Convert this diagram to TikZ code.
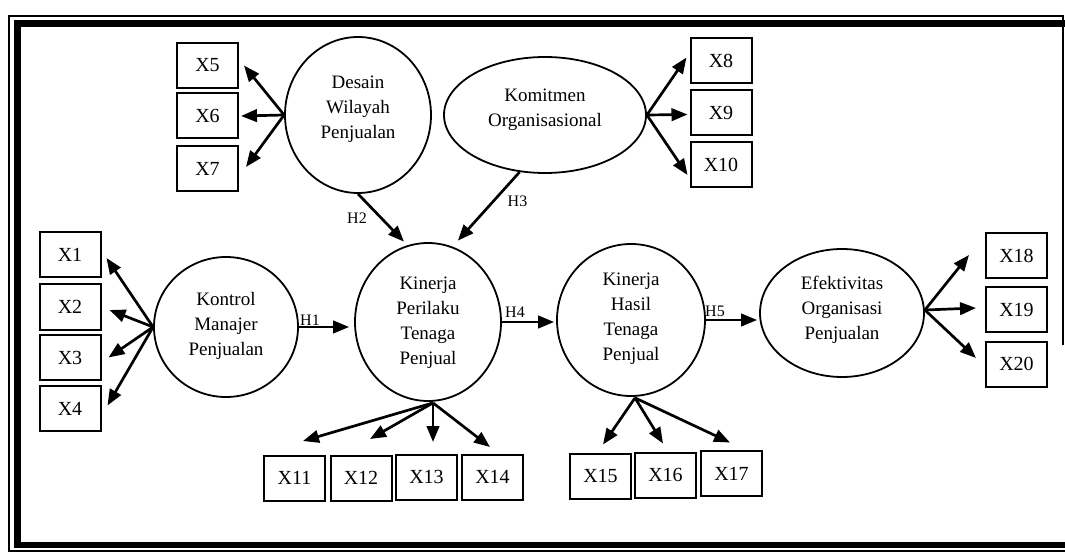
\documentclass[tikz,border=0pt]{standalone}
\usepackage{fontspec}
\setmainfont{Liberation Serif}
\usetikzlibrary{shapes.geometric,arrows.meta,calc}

\begin{document}
\begin{tikzpicture}[x=1pt,y=-1pt,
  latent/.style={draw,ellipse,line width=1.8pt,inner sep=0pt},
  caption/.style={inner sep=0pt,align=center,font=\fontsize{19}{25}\selectfont},
  indicator/.style={draw,rectangle,line width=2pt,minimum width=61pt,
    minimum height=45pt,inner sep=0pt,font=\fontsize{20}{22}\selectfont},
  path/.style={line width=2.7pt,-{Triangle[length=16pt,width=12.5pt]}},
  hyp/.style={inner sep=0pt,font=\fontsize{16}{18}\selectfont}
]
\useasboundingbox (0,0) rectangle (1065,553);

% double frame
\draw[line width=6.5pt] (17.5,23.5) rectangle (1085,545);
\draw[line width=1.3pt] (1063,345) -- (1063,16) -- (9,16) -- (9,551) -- (1070,551);

% latent constructs
\node[latent,minimum width=146pt,minimum height=156pt] (desain) at (358,115) {};
\node[latent,minimum width=202pt,minimum height=116pt] (komitmen) at (545,115) {};
\node[latent,minimum width=144pt,minimum height=140pt] (kontrol) at (226,327) {};
\node[latent,minimum width=146pt,minimum height=158pt] (perilaku) at (428,322) {};
\node[latent,minimum width=148pt,minimum height=152pt] (hasil) at (631,320) {};
\node[latent,minimum width=164pt,minimum height=128pt] (efektivitas) at (842,313) {};

% construct names
\node[caption] (desain-t) at ($(desain.center)+(0,-6)$) {Desain\\Wilayah\\Penjualan};
\node[caption] (komitmen-t) at ($(komitmen.center)+(0,-5)$) {Komitmen\\Organisasional};
\node[caption] (kontrol-t) at ($(kontrol.center)+(0,-1)$) {Kontrol\\Manajer\\Penjualan};
\node[caption] (perilaku-t) at ($(perilaku.center)+(0,1)$) {Kinerja\\Perilaku\\Tenaga\\Penjual};
\node[caption] (hasil-t) at ($(hasil.center)+(0,-1)$) {Kinerja\\Hasil\\Tenaga\\Penjual};
\node[caption] (efektivitas-t) at ($(efektivitas.center)+(0,-3)$) {Efektivitas\\Organisasi\\Penjualan};

% indicators
\node[indicator] (x5) at (207.5,65.5) {X5};
\node[indicator] (x6) at (207.5,116) {X6};
\node[indicator] (x7) at (207.5,169) {X7};
\node[indicator] (x8) at (721,60.5) {X8};
\node[indicator] (x9) at (721,112.5) {X9};
\node[indicator] (x10) at (721,165) {X10};
\node[indicator] (x1) at (70,255) {X1};
\node[indicator] (x2) at (70,307) {X2};
\node[indicator] (x3) at (70,357.5) {X3};
\node[indicator] (x4) at (70,408.5) {X4};
\node[indicator] (x11) at (294.5,478) {X11};
\node[indicator] (x12) at (361,478) {X12};
\node[indicator] (x13) at (426.5,477) {X13};
\node[indicator] (x14) at (492.5,477) {X14};
\node[indicator] (x15) at (600.5,476) {X15};
\node[indicator] (x16) at (665.5,475) {X16};
\node[indicator] (x17) at (731.5,473.5) {X17};
\node[indicator] (x18) at (1016.5,256) {X18};
\node[indicator] (x19) at (1016.5,309.5) {X19};
\node[indicator] (x20) at (1016.5,364) {X20};

% measurement arrows
\draw[path] (desain.west) -- ($(x5.east)+(5,0)$);
\draw[path] (desain.west) -- ($(x6.east)+(2,0)$);
\draw[path] (desain.west) -- ($(x7.east)+(7,-2)$);

\draw[path] (komitmen.east) -- ($(x8.west)+(-3,-3)$);
\draw[path] (komitmen.east) -- ($(x9.west)+(-2,2)$);
\draw[path] (komitmen.east) -- ($(x10.west)+(-2,10)$);

\draw[path] (kontrol.west) -- ($(x1.east)+(5,3)$);
\draw[path] (kontrol.west) -- ($(x2.east)+(8,3)$);
\draw[path] (kontrol.west) -- ($(x3.east)+(7,0)$);
\draw[path] (kontrol.west) -- ($(x4.east)+(6,-3)$);

\coordinate (perilaku-out) at ($(perilaku.south)+(5,1)$);
\draw[path] (perilaku-out) -- ($(x11.north)+(8.5,-13.5)$);
\draw[path] (perilaku-out) -- ($(x12.north)+(9,-15.5)$);
\draw[path] (perilaku-out) -- ($(x13.north)+(6.5,-11.5)$);
\draw[path] (perilaku-out) -- ($(x14.north)+(-2.5,-6.5)$);

\coordinate (hasil-out) at ($(hasil.south)+(4,1)$);
\draw[path] (hasil-out) -- ($(x15.north)+(2.5,-8)$);
\draw[path] (hasil-out) -- ($(x16.north)+(-2.5,-8)$);
\draw[path] (hasil-out) -- ($(x17.north)+(-1.5,-7.5)$);

\coordinate (efektivitas-out) at ($(efektivitas.east)+(0,-3)$);
\draw[path] (efektivitas-out) -- ($(x18.west)+(-16,-1)$);
\draw[path] (efektivitas-out) -- ($(x19.west)+(-9,-1.5)$);
\draw[path] (efektivitas-out) -- ($(x20.west)+(-9,-6)$);

% structural paths
\draw[path,shorten >=5pt] (kontrol.east) -- (kontrol.east -| perilaku.west);
\draw[path,shorten >=2pt] (perilaku.east) -- (perilaku.east -| hasil.west);
\draw[path,shorten >=2pt] (hasil.east) -- (hasil.east -| efektivitas.west);
\draw[path,shorten >=5pt] (desain.south) -- (perilaku.105);
\draw[path,shorten >=8pt] (komitmen.-114) -- (perilaku.72);

% hypothesis labels
\node[hyp] (h1) at (310,320.5) {H1};
\node[hyp] (h2) at (357,218) {H2};
\node[hyp] (h3) at (517.5,201.5) {H3};
\node[hyp] (h4) at (515,312) {H4};
\node[hyp] (h5) at (715,311) {H5};
\end{tikzpicture}
\end{document}
